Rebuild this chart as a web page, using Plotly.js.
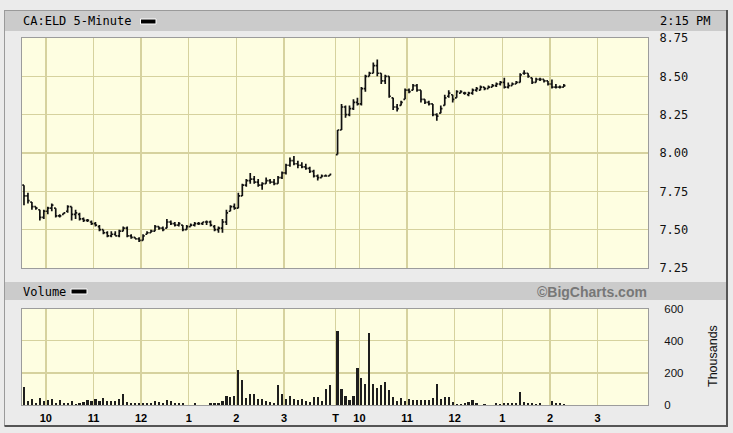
<!DOCTYPE html>
<html><head><meta charset="utf-8">
<script src="https://cdn.plot.ly/plotly-3.0.1.min.js"></script>
<style>html,body{margin:0;padding:0;background:#ebebeb;}#chart{width:733px;height:433px;}</style>
</head><body><div id="chart"></div>
<script>
// ---- Data ----
const symbol = 'CA:ELD 5-Minute';
const asOf = '2:15 PM';
// Day 1: 9:30 - 16:00, 5-minute bars
const day1Open  = [7.79,7.72,7.68,7.65,7.63,7.58,7.62,7.64,7.64,7.59,7.60,7.62,7.65,7.60,7.60,7.57,7.56,7.55,7.54,7.52,7.50,7.48,7.46,7.47,7.46,7.49,7.51,7.46,7.45,7.44,7.43,7.47,7.48,7.49,7.52,7.51,7.51,7.55,7.54,7.53,7.53,7.50,7.52,7.53,7.54,7.54,7.55,7.55,7.52,7.50,7.51,7.55,7.62,7.65,7.64,7.72,7.79,7.82,7.83,7.81,7.79,7.80,7.82,7.81,7.80,7.84,7.87,7.92,7.95,7.93,7.92,7.91,7.90,7.88,7.85,7.84,7.85,7.85];
const day1High  = [7.79,7.74,7.68,7.65,7.63,7.63,7.65,7.67,7.64,7.60,7.61,7.66,7.65,7.63,7.61,7.58,7.57,7.56,7.55,7.53,7.50,7.49,7.49,7.49,7.50,7.52,7.52,7.47,7.45,7.45,7.47,7.49,7.50,7.53,7.52,7.52,7.57,7.56,7.55,7.55,7.53,7.53,7.54,7.55,7.55,7.55,7.56,7.56,7.53,7.52,7.57,7.63,7.66,7.67,7.74,7.80,7.83,7.87,7.85,7.83,7.81,7.84,7.83,7.83,7.85,7.88,7.93,7.97,7.98,7.95,7.94,7.93,7.91,7.89,7.86,7.86,7.86,7.86];
const day1Low   = [7.66,7.67,7.63,7.63,7.56,7.57,7.60,7.62,7.58,7.58,7.60,7.61,7.56,7.57,7.56,7.55,7.55,7.53,7.52,7.49,7.47,7.45,7.45,7.46,7.45,7.49,7.45,7.44,7.44,7.42,7.43,7.47,7.48,7.49,7.50,7.49,7.51,7.53,7.52,7.52,7.49,7.50,7.52,7.52,7.53,7.53,7.53,7.52,7.49,7.48,7.48,7.53,7.62,7.63,7.64,7.72,7.78,7.80,7.80,7.78,7.76,7.80,7.80,7.79,7.80,7.83,7.86,7.91,7.92,7.90,7.90,7.89,7.87,7.84,7.82,7.84,7.85,7.85];
const day1Close = [7.72,7.69,7.65,7.64,7.58,7.62,7.64,7.66,7.59,7.59,7.61,7.65,7.60,7.61,7.57,7.56,7.56,7.54,7.53,7.50,7.48,7.46,7.47,7.46,7.49,7.51,7.46,7.45,7.44,7.43,7.46,7.48,7.49,7.52,7.51,7.50,7.55,7.54,7.53,7.54,7.50,7.52,7.53,7.54,7.54,7.55,7.55,7.53,7.50,7.51,7.55,7.61,7.65,7.64,7.72,7.79,7.82,7.83,7.81,7.79,7.80,7.82,7.81,7.80,7.84,7.87,7.92,7.95,7.93,7.92,7.91,7.90,7.88,7.85,7.84,7.85,7.85,7.86];
const day1Volume = [111,25,35,10,45,25,31,35,14,31,14,10,25,4,10,19,31,23,35,23,45,25,25,25,35,70,19,14,14,14,14,10,14,23,19,14,31,25,14,14,14,2,2,10,2,2,2,10,10,14,25,55,51,55,220,158,45,70,70,39,35,25,21,14,125,66,35,55,35,31,35,25,19,50,50,25,97,125];
// Day 2: 9:30 - 14:15
const day2Open  = [7.99,8.15,8.30,8.25,8.29,8.33,8.32,8.42,8.50,8.52,8.57,8.52,8.47,8.50,8.36,8.30,8.31,8.35,8.41,8.41,8.44,8.41,8.35,8.33,8.32,8.25,8.26,8.31,8.37,8.38,8.36,8.39,8.39,8.38,8.39,8.41,8.41,8.43,8.42,8.43,8.44,8.45,8.46,8.43,8.44,8.45,8.46,8.52,8.52,8.49,8.46,8.48,8.48,8.47,8.45,8.43,8.43,8.43];
const day2High  = [8.15,8.32,8.31,8.31,8.35,8.36,8.43,8.51,8.53,8.59,8.61,8.52,8.51,8.50,8.36,8.32,8.34,8.42,8.42,8.45,8.45,8.41,8.35,8.34,8.32,8.26,8.31,8.38,8.41,8.38,8.41,8.41,8.40,8.40,8.42,8.43,8.44,8.43,8.44,8.45,8.46,8.47,8.49,8.46,8.46,8.47,8.52,8.54,8.52,8.49,8.49,8.49,8.48,8.47,8.48,8.45,8.44,8.45];
const day2Low   = [7.99,8.15,8.23,8.24,8.28,8.31,8.31,8.40,8.50,8.52,8.50,8.45,8.45,8.36,8.28,8.27,8.31,8.35,8.39,8.41,8.40,8.33,8.32,8.31,8.24,8.21,8.26,8.31,8.36,8.33,8.36,8.39,8.38,8.37,8.38,8.40,8.41,8.41,8.42,8.43,8.43,8.44,8.42,8.42,8.44,8.45,8.46,8.51,8.49,8.45,8.46,8.47,8.46,8.44,8.42,8.42,8.42,8.43];
const day2Close = [8.15,8.30,8.25,8.29,8.33,8.32,8.42,8.50,8.52,8.57,8.52,8.47,8.50,8.37,8.30,8.29,8.33,8.41,8.40,8.44,8.41,8.35,8.33,8.32,8.25,8.24,8.29,8.36,8.39,8.35,8.40,8.40,8.39,8.39,8.41,8.42,8.43,8.42,8.43,8.44,8.45,8.46,8.43,8.44,8.45,8.46,8.51,8.52,8.50,8.46,8.48,8.48,8.47,8.45,8.43,8.43,8.43,8.44];
const day2Volume = [462,100,55,30,55,230,165,128,447,128,108,122,140,94,50,26,43,22,35,31,29,31,31,33,41,132,37,50,50,20,8,5,10,16,33,10,3,6,2,2,12,8,10,10,10,12,82,16,12,12,4,10,3,3,22,14,10,8];
const tickHours = [10,11,12,13,14,15];
const hourLabels = ['10','11','12','1','2','3'];
const priceTicks = [7.25,7.50,7.75,8.00,8.25,8.50,8.75];
const volumeTicks = [0,200,400,600];

// ---- Slot computation (5-min bars, one empty slot between sessions) ----
const barsPerDay = 78;
const day2Start = barsPerDay + 1;
const slotOfHour = h => (h*60 - 570)/5;
const x1 = day1Open.map((_, i) => i + 0.5);
const x2 = day2Open.map((_, i) => day2Start + i + 0.5);
const xs = x1.concat(x2);
const tickVals = [], tickText = [];
tickHours.forEach((h,i)=>{ tickVals.push(slotOfHour(h)); tickText.push('<b>'+hourLabels[i]+'</b>'); });
tickVals.push(day2Start); tickText.push('<b>T</b>');
tickHours.forEach((h,i)=>{ tickVals.push(day2Start + slotOfHour(h)); tickText.push('<b>'+hourLabels[i]+'</b>'); });

// ---- Geometry helpers (pixel -> paper) ----
const PL=22, PR=648, PT=38, PB=405;
const xp = p => (p-PL)/(PR-PL);
const yp = p => (PB-p)/(PB-PT);

const grid = '#d6d29e';
const traces = [
  { type:'ohlc', x: xs,
    open: day1Open.concat(day2Open), high: day1High.concat(day2High),
    low: day1Low.concat(day2Low), close: day1Close.concat(day2Close),
    xaxis:'x', yaxis:'y', tickwidth:0.42, hoverinfo:'skip',
    increasing:{line:{color:'#111', width:1.7}},
    decreasing:{line:{color:'#111', width:1.7}} },
  { type:'bar', x: xs, y: day1Volume.concat(day2Volume), xaxis:'x2', yaxis:'y2',
    width:0.55, marker:{color:'#1e1e1e', line:{width:0}}, hoverinfo:'skip' }
];

const xCommon = { range:[0,157.7], tickvals:tickVals, showgrid:true, gridcolor:grid, gridwidth:1.5,
  zeroline:false, showline:true, linecolor:'#9c9c9c', linewidth:1, mirror:true, fixedrange:true };

const layout = {
  width:733, height:433,
  margin:{l:PL, r:733-PR, t:PT, b:433-PB, pad:0},
  paper_bgcolor:'#ebebeb', plot_bgcolor:'#fefee1',
  showlegend:false, bargap:0,
  xaxis: Object.assign({}, xCommon, {anchor:'y', showticklabels:false, ticks:'', rangeslider:{visible:false}}),
  yaxis: { domain:[yp(268),1], range:[7.25,8.75], side:'right', tickvals:priceTicks, tickformat:'.2f',
    showgrid:true, gridcolor:grid, gridwidth:1.5, zeroline:false, showline:true, linecolor:'#9c9c9c', mirror:true,
    ticks:'outside', ticklen:8, tickcolor:'rgba(0,0,0,0)',
    tickfont:{family:'DejaVu Sans Mono', size:12, color:'#111'}, fixedrange:true },
  xaxis2: Object.assign({}, xCommon, {anchor:'y2', ticktext:tickText, ticks:'outside', ticklen:3, tickcolor:'rgba(0,0,0,0)',
    tickfont:{family:'Liberation Sans', size:11, color:'#000'}}),
  yaxis2: { domain:[0,yp(308.5)], range:[0,600], side:'right', tickvals:volumeTicks,
    showgrid:true, gridcolor:grid, gridwidth:1.5, zeroline:false, showline:true, linecolor:'#9c9c9c', mirror:true,
    ticks:'outside', ticklen:13, tickcolor:'rgba(0,0,0,0)',
    tickfont:{family:'Liberation Sans', size:11.5, color:'#111'}, fixedrange:true },
  shapes: [
    {type:'rect', xref:'paper', yref:'paper', x0:xp(5), x1:xp(727), y0:yp(11), y1:yp(31), fillcolor:'#cbcbcb', line:{width:0}, layer:'below'},
    {type:'rect', xref:'paper', yref:'paper', x0:xp(5), x1:xp(727), y0:yp(282), y1:yp(300), fillcolor:'#cbcbcb', line:{width:0}, layer:'below'},
    {type:'line', xref:'paper', yref:'paper', x0:xp(4.5), x1:xp(4.5), y0:yp(10), y1:yp(426), line:{color:'#9a9a9a', width:1}},
    {type:'line', xref:'paper', yref:'paper', x0:xp(4.5), x1:xp(727), y0:yp(10.5), y1:yp(10.5), line:{color:'#9a9a9a', width:1}},
    {type:'line', xref:'paper', yref:'paper', x0:xp(727), x1:xp(727), y0:yp(10), y1:yp(426), line:{color:'#555', width:2}},
    {type:'line', xref:'paper', yref:'paper', x0:xp(4.5), x1:xp(728), y0:yp(426), y1:yp(426), line:{color:'#555', width:2}},
    {type:'rect', xref:'paper', yref:'paper', x0:xp(140.5), x1:xp(156), y0:yp(19), y1:yp(24), fillcolor:'#000', line:{color:'#fff', width:1}},
    {type:'rect', xref:'paper', yref:'paper', x0:xp(71), x1:xp(87), y0:yp(289), y1:yp(294), fillcolor:'#000', line:{color:'#fff', width:1}}
  ],
  annotations: [
    {xref:'paper', yref:'paper', x:xp(21), y:yp(21), xanchor:'left', yanchor:'middle', showarrow:false, text:symbol,
      font:{family:'DejaVu Sans Mono', size:12, color:'#000'}},
    {xref:'paper', yref:'paper', x:xp(713), y:yp(21), xanchor:'right', yanchor:'middle', showarrow:false, text:asOf,
      font:{family:'DejaVu Sans Mono', size:12, color:'#000'}},
    {xref:'paper', yref:'paper', x:xp(21), y:yp(291.5), xanchor:'left', yanchor:'middle', showarrow:false, text:'Volume',
      font:{family:'DejaVu Sans Mono', size:12, color:'#000'}},
    {xref:'paper', yref:'paper', x:xp(649), y:yp(291.5), xanchor:'right', yanchor:'middle', showarrow:false, text:'<b>©BigCharts.com</b>',
      font:{family:'Liberation Sans', size:14, color:'#777'}},
    {xref:'paper', yref:'paper', x:xp(713), y:yp(356), xanchor:'center', yanchor:'middle', showarrow:false, text:'Thousands', textangle:-90,
      font:{family:'Liberation Sans', size:12.5, color:'#111'}}
  ]
};

Plotly.newPlot('chart', traces, layout, {displayModeBar:false, staticPlot:true});
</script>
</body></html>
